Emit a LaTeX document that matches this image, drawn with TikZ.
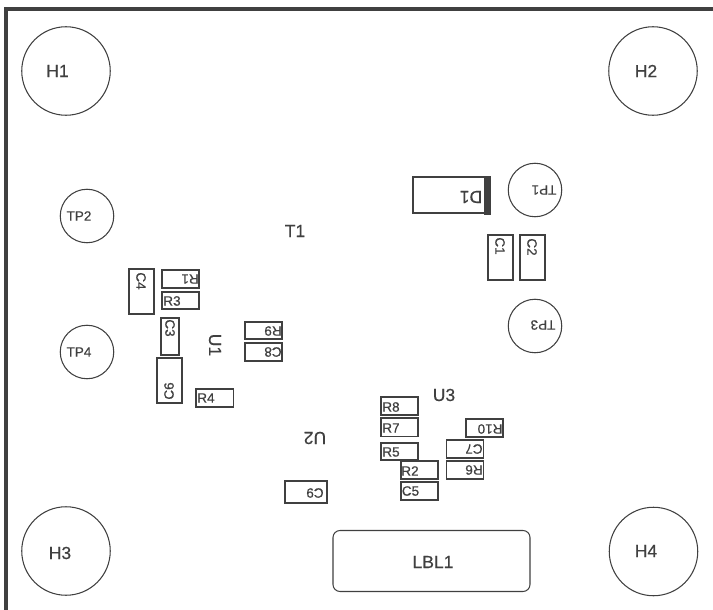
\documentclass[tikz,border=0pt]{standalone}
\usepackage{fontspec}
\newfontfamily\cadfont[FakeBold=0.5]{Liberation Sans}
\definecolor{ink}{gray}{0.25}
\tikzset{
  x=1pt,y=-1pt,
  pad/.style={draw=ink,line width=1.05pt},
  hole/.style={circle,draw=ink,line width=1.05pt,minimum size=88.5pt,inner sep=0pt},
  tp/.style={circle,draw=ink,line width=1.05pt,minimum size=53.5pt,inner sep=0pt},
  lab/.style={text=ink,inner sep=0pt,font=\cadfont\fontsize{13.5}{14}\selectfont},
  biglab/.style={text=ink,inner sep=0pt,font=\cadfont\fontsize{17.5}{18}\selectfont},
}
\begin{document}
\begin{tikzpicture}
\useasboundingbox (0,0) rectangle (713,610);
\fill[white] (0,0) rectangle (713,610);
\coordinate (ft) at (713,9);
\coordinate (fc) at (6,9);
\coordinate (fb) at (6,610);
\draw[ink,line width=3.2pt] (ft) -- (fc) -- (fb);
\node[hole] (H1) at (66,71) {};
\node[hole] (H2) at (653,71) {};
\node[hole] (H3) at (66,551) {};
\node[hole] (H4) at (653.5,551.5) {};
\node[biglab] (H1t) at (57.5,71) {H1};
\node[biglab] (H2t) at (646,71) {H2};
\node[biglab] (H3t) at (60,553) {H3};
\node[biglab] (H4t) at (646,551) {H4};
\node[tp] (TP2) at (87,216) {};
\node[tp] (TP4) at (87,352) {};
\node[tp] (TP1) at (535,190) {};
\node[tp] (TP3) at (535,326) {};
\node[lab] (TP2t) at (79,216) {TP2};
\node[lab] (TP4t) at (79,352) {TP4};
\node[lab,rotate=180] (TP1t) at (544,190) {TP1};
\node[lab,rotate=180] (TP3t) at (543,325) {TP3};
\draw[pad] (413,177) rectangle (490,213);
\fill[ink] (484,176.5) rectangle (491,215);
\node[biglab,rotate=180] (D1) at (471,197) {D1};
\node[biglab] (T1) at (295,231) {T1};
\node[biglab,rotate=-90] (U1) at (215,345) {U1};
\node[biglab,rotate=180] (U2) at (315,438) {U2};
\node[biglab] (U3) at (444,395) {U3};
\draw[pad] (488,235) rectangle (513,280);
\node[lab,rotate=-90] (C1) at (500,246) {C1};
\draw[pad] (520,235) rectangle (545,280);
\node[lab,rotate=-90] (C2) at (532,247) {C2};
\draw[pad] (129,269) rectangle (154,314);
\node[lab,rotate=-90] (C4) at (141,281) {C4};
\draw[pad] (161,318) rectangle (179,355);
\node[lab,rotate=-90] (C3) at (170,328) {C3};
\draw[pad] (157,358) rectangle (182,403);
\node[lab,rotate=90] (C6) at (169,391) {C6};
\draw[pad] (162,270) rectangle (199,288);
\node[lab,rotate=180] (R1) at (190,279) {R1};
\draw[pad] (162,292) rectangle (199,309);
\node[lab] (R3) at (172,301) {R3};
\draw[pad] (196,389) rectangle (233.5,407);
\node[lab] (R4) at (206,398) {R4};
\draw[pad] (245,322) rectangle (282,339);
\node[lab,rotate=180] (R9) at (273,331) {R9};
\draw[pad] (245,343) rectangle (282,361);
\node[lab,rotate=180] (C8) at (273,352) {C8};
\draw[pad] (381,397) rectangle (418,415);
\node[lab] (R8) at (391,407) {R8};
\draw[pad] (381,418) rectangle (418,436.5);
\node[lab] (R7) at (391,428) {R7};
\draw[pad] (381,443) rectangle (418,460);
\node[lab] (R5) at (391,452) {R5};
\draw[pad] (401,461) rectangle (438,479);
\node[lab] (R2) at (410,471) {R2};
\draw[pad] (401,482) rectangle (438,500);
\node[lab] (C5) at (410.5,491) {C5};
\draw[pad] (466,419) rectangle (503,437);
\node[lab,rotate=180] (R10) at (490,429) {R10};
\draw[pad] (446.5,440) rectangle (483.5,458);
\node[lab,rotate=180] (C7) at (474,449) {C7};
\draw[pad] (446.5,461) rectangle (483.5,479);
\node[lab,rotate=180] (R6) at (474,470) {R6};
\draw[pad] (285,481) rectangle (327,503);
\node[lab,rotate=180] (C9) at (315,493) {C9};
\node[draw=ink,line width=1.05pt,rounded corners=7pt,minimum width=197pt,minimum height=61pt,inner sep=0pt] (LBL1) at (431.5,561) {};
\node[biglab] (LBL1t) at (433,562) {LBL1};
\end{tikzpicture}
\end{document}
